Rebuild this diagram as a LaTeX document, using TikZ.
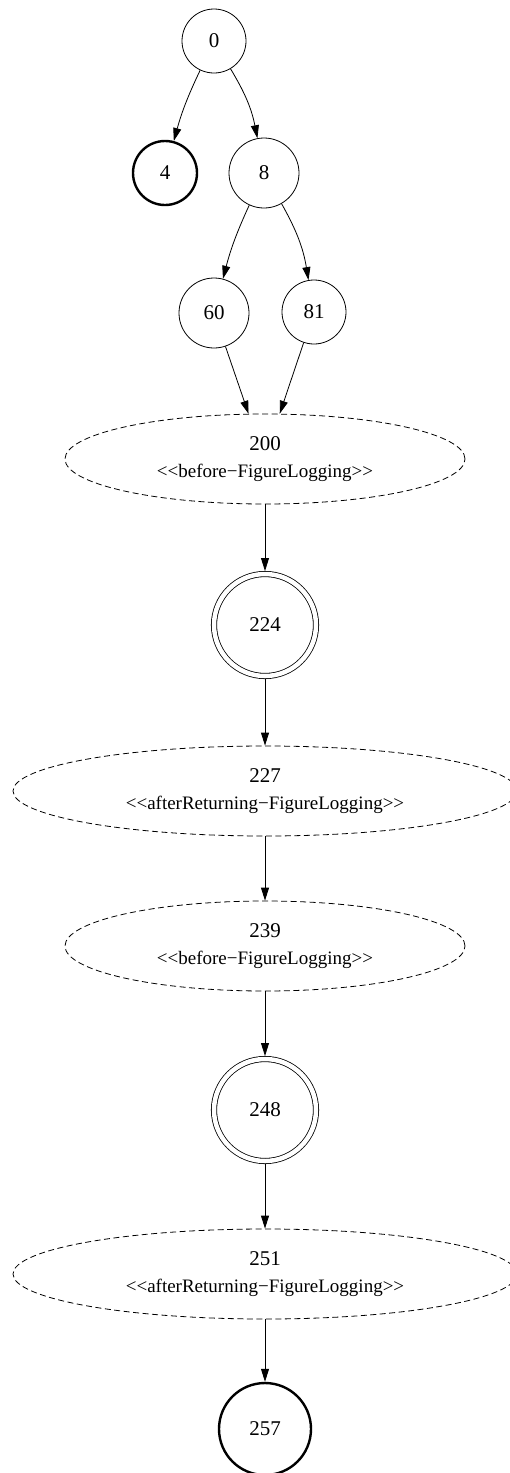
\documentclass[tikz,border=0pt]{standalone}
\usepackage{fontspec}
\setmainfont{Liberation Serif}
\usetikzlibrary{shapes.geometric, arrows.meta}

\newcommand{\stereo}[1]{{\fontsize{19}{22}\selectfont <\kern0pt<#1>\kern0pt>}}

\begin{document}
\begin{tikzpicture}[x=1pt, y=-1pt,
    state/.style={circle, draw, line width=0.8pt, minimum size=64pt, inner sep=0pt,
                  font=\fontsize{21}{24}\selectfont},
    final/.style={state, line width=2.4pt},
    accept/.style={state, double, double distance=4.5pt, outer sep=3pt, minimum size=102pt},
    advice/.style={ellipse, draw, dash pattern=on 6pt off 3.5pt, line width=0.8pt,
                   align=center, inner sep=0pt, minimum height=90pt,
                   font=\fontsize{21}{27}\selectfont},
    edge/.style={-{Triangle[length=13pt,width=8pt]}, line width=0.8pt},
]
    \useasboundingbox (0,0) rectangle (510,1473);

    % upper part
    \node[state] (n0) at (214,41) {0};
    \node[final] (n4) at (165,173) {4};
    \node[state, minimum size=70pt] (n8) at (264,173) {8};
    \node[state, minimum size=70pt] (n60) at (214,313) {60};
    \node[state] (n81) at (314,312) {81};

    % the chain
    \node[advice, minimum width=400pt] (n200) at (265,459) {200\\ \stereo{before−FigureLogging}};
    \node[accept] (n224) at (265,625) {224};
    \node[advice, minimum width=504pt] (n227) at (265,791) {227\\ \stereo{afterReturning−FigureLogging}};
    \node[advice, minimum width=400pt] (n239) at (265,946) {239\\ \stereo{before−FigureLogging}};
    \node[accept] (n248) at (265,1110) {248};
    \node[advice, minimum width=504pt] (n251) at (265,1274) {251\\ \stereo{afterReturning−FigureLogging}};
    \node[final, minimum size=92pt] (n257) at (265,1429) {257};

    \draw[edge] (n0) to[bend right=5] (n4);
    \draw[edge] (n0) to[bend left=10] (n8);
    \draw[edge] (n8) to[bend right=5] (n60);
    \draw[edge] (n8) to[bend left=10] (n81);
    \draw[edge] (n60) -- (n200.110);
    \draw[edge] (n81) -- (n200.72);
    \draw[edge] (n200) -- (n224);
    \draw[edge] (n224) -- (n227);
    \draw[edge] (n227) -- (n239);
    \draw[edge] (n239) -- (n248);
    \draw[edge] (n248) -- (n251);
    \draw[edge] (n251) -- (n257);
\end{tikzpicture}
\end{document}
